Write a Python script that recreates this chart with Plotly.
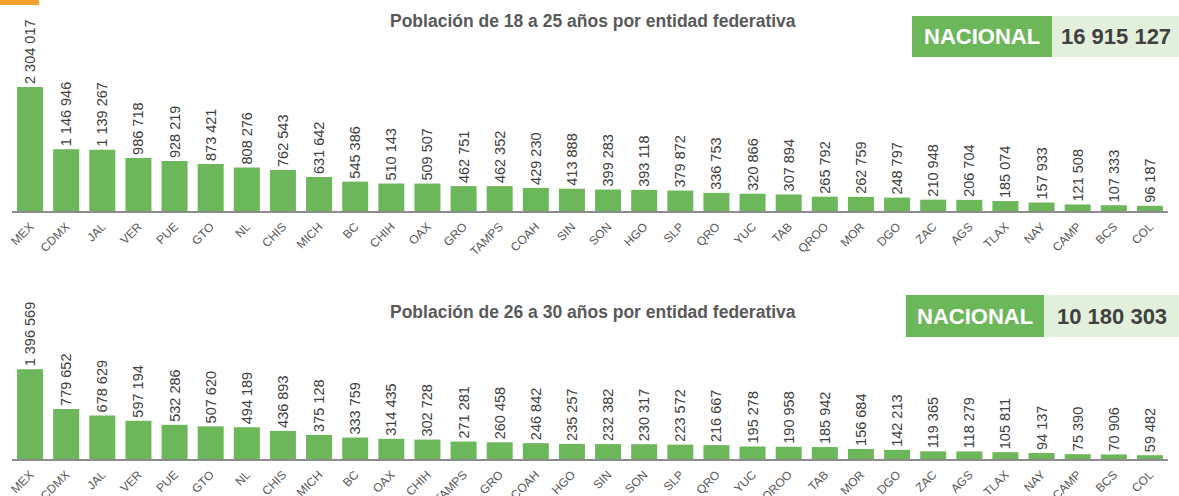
import plotly.graph_objects as go

W, H = 1179, 496

estados_18_25 = ["MEX", "CDMX", "JAL", "VER", "PUE", "GTO", "NL", "CHIS", "MICH", "BC",
                 "CHIH", "OAX", "GRO", "TAMPS", "COAH", "SIN", "SON", "HGO", "SLP", "QRO",
                 "YUC", "TAB", "QROO", "MOR", "DGO", "ZAC", "AGS", "TLAX", "NAY", "CAMP",
                 "BCS", "COL"]
pob_18_25 = [2304017, 1146946, 1139267, 986718, 928219, 873421, 808276, 762543, 631642, 545386,
             510143, 509507, 462751, 462352, 429230, 413888, 399283, 393118, 379872, 336753,
             320866, 307894, 265792, 262759, 248797, 210948, 206704, 185074, 157933, 121508,
             107333, 96187]

estados_26_30 = ["MEX", "CDMX", "JAL", "VER", "PUE", "GTO", "NL", "CHIS", "MICH", "BC",
                 "OAX", "CHIH", "TAMPS", "GRO", "COAH", "HGO", "SIN", "SON", "SLP", "QRO",
                 "YUC", "QROO", "TAB", "MOR", "DGO", "ZAC", "AGS", "TLAX", "NAY", "CAMP",
                 "BCS", "COL"]
pob_26_30 = [1396569, 779652, 678629, 597194, 532286, 507620, 494189, 436893, 375128, 333759,
             314435, 302728, 271281, 260458, 246842, 235257, 232382, 230317, 223572, 216667,
             195278, 190958, 185942, 156684, 142213, 119365, 118279, 105811, 94137, 75390,
             70906, 59482]

nacional_18_25 = 16915127
nacional_26_30 = 10180303

titulo_1 = "Población de 18 a 25 años por entidad federativa"
titulo_2 = "Población de 26 a 30 años por entidad federativa"

VERDE = "#6db75b"
VERDE_CLARO = "#e2efda"
GRIS_TXT = "#595959"
GRIS_VAL = "#404040"
FONT = "Liberation Sans, Arial, sans-serif"


def fmt(v):
    return f"{v:,}".replace(",", " ")


def py(px):  # pixel from top -> paper fraction
    return 1 - px / H


fig = go.Figure()

fig.add_trace(go.Bar(
    x=estados_18_25, y=pob_18_25, xaxis="x", yaxis="y",
    marker=dict(color=VERDE, line=dict(width=0)),
    text=[fmt(v) for v in pob_18_25], textposition="outside", textangle=-90,
    textfont=dict(size=14.5, color=GRIS_VAL, family=FONT),
    constraintext="none", cliponaxis=False, hoverinfo="x+y",
))
fig.add_trace(go.Bar(
    x=estados_26_30, y=pob_26_30, xaxis="x2", yaxis="y2",
    marker=dict(color=VERDE, line=dict(width=0)),
    text=[fmt(v) for v in pob_26_30], textposition="outside", textangle=-90,
    textfont=dict(size=14.5, color=GRIS_VAL, family=FONT),
    constraintext="none", cliponaxis=False, hoverinfo="x+y",
))

xdom = [12 / W, 1168 / W]
xcommon = dict(
    domain=xdom, range=[-0.5, 31.5], showgrid=False, zeroline=False,
    showline=True, linecolor="#8c8c8c", linewidth=2, ticks="",
    tickangle=-45, tickfont=dict(size=12, color=GRIS_TXT, family=FONT),
    ticklabelstandoff=2, automargin=False, fixedrange=True,
)
ycommon = dict(visible=False, showgrid=False, zeroline=False, fixedrange=True,
               automargin=False)

# top panel: baseline at 211px, MEX bar 124px tall
top_base, top_px = 211, 124
bot_base, bot_top, bot_px = 459, 260, 89.7

fig.update_layout(
    width=W, height=H,
    margin=dict(l=0, r=0, t=0, b=0, pad=0),
    paper_bgcolor="white", plot_bgcolor="white",
    showlegend=False, bargap=0.28,
    font=dict(family=FONT),
    xaxis=dict(**xcommon, anchor="y"),
    yaxis=dict(**ycommon, domain=[py(top_base), 1],
               range=[0, max(pob_18_25) * top_base / top_px]),
    xaxis2=dict(**xcommon, anchor="y2"),
    yaxis2=dict(**ycommon, domain=[py(bot_base), py(bot_top)],
                range=[0, max(pob_26_30) * (bot_base - bot_top) / bot_px]),
)

shapes = [
    # orange tab top-left
    dict(type="rect", xref="paper", yref="paper", x0=0, x1=39 / W, y0=py(5), y1=1,
         fillcolor="#f5a02a", line=dict(width=0), layer="above"),
]
annotations = []

for (x0, xm, y0, y1, total, ty, tit) in [
    (912, 1052, 16, 57, nacional_18_25, 21, titulo_1),
    (906, 1044, 295, 337, nacional_26_30, 312, titulo_2),
]:
    shapes.append(dict(type="rect", xref="paper", yref="paper", x0=x0 / W, x1=xm / W,
                       y0=py(y1), y1=py(y0), fillcolor=VERDE, line=dict(width=0)))
    shapes.append(dict(type="rect", xref="paper", yref="paper", x0=xm / W, x1=1,
                       y0=py(y1), y1=py(y0), fillcolor=VERDE_CLARO, line=dict(width=0)))
    ym = py((y0 + y1) / 2)
    annotations.append(dict(xref="paper", yref="paper", x=(x0 + xm) / 2 / W, y=ym,
                            text="<b>NACIONAL</b>", showarrow=False, xanchor="center",
                            yanchor="middle",
                            font=dict(size=22, color="white", family=FONT)))
    annotations.append(dict(xref="paper", yref="paper", x=(xm + 1179) / 2 / W, y=ym,
                            text="<b>" + fmt(total) + "</b>", showarrow=False,
                            xanchor="center", yanchor="middle",
                            font=dict(size=22, color=GRIS_VAL, family=FONT)))
    annotations.append(dict(xref="paper", yref="paper", x=592.5 / W, y=py(ty),
                            text="<b>" + tit + "</b>", showarrow=False, xanchor="center",
                            yanchor="middle",
                            font=dict(size=17.5, color=GRIS_TXT, family=FONT)))

fig.update_layout(shapes=shapes, annotations=annotations)

# drop the default page margin so the figure sits at the window's corner
fig.write_html("out.html", config={"displayModeBar": False},
               post_script="document.body.style.margin='0';document.body.style.overflow='hidden';")
